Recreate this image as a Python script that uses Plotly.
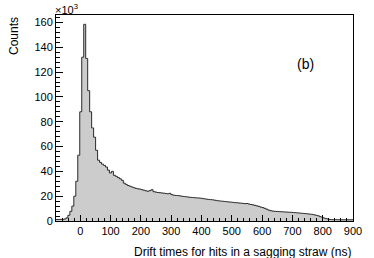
import numpy as np
import plotly.graph_objects as go

# Histogram definition
x_low = -80.0
x_high = 900.0
n_bins = 150

# Bin contents (thousands of counts)
counts_k = [
    1.2, 1.2, 1.3, 1.3, 1.6, 2.5, 4.6, 7.8, 12.0, 20.0,
    32.0, 53.0, 88.0, 132.0, 158.5, 131.0, 105.0, 88.0, 75.0, 67.5,
    57.0, 49.0, 47.2, 45.8, 44.8, 43.5, 41.0, 38.7, 40.0, 36.8,
    36.0, 35.0, 34.0, 32.8, 30.5, 29.5, 28.6, 28.0, 27.4, 26.8,
    26.3, 25.9, 25.7, 25.2, 24.8, 24.3, 24.0, 24.5, 25.2, 23.6,
    23.3, 23.0, 22.8, 22.6, 22.4, 22.2, 21.9, 22.3, 21.3, 20.8,
    20.6, 20.5, 20.3, 20.0, 19.8, 19.6, 19.4, 19.1, 19.0, 18.9,
    18.7, 18.6, 18.5, 18.3, 18.0, 17.8, 17.5, 17.3, 17.2, 17.0,
    16.7, 16.4, 16.2, 16.0, 15.9, 15.7, 15.5, 15.3, 15.2, 15.0,
    14.8, 14.7, 14.5, 14.4, 14.2, 14.0, 14.1, 13.7, 13.3, 13.0,
    12.6, 12.2, 11.8, 11.2, 10.8, 10.2, 9.5, 8.8, 8.3, 8.0,
    7.8, 7.7, 7.6, 7.5, 7.4, 7.3, 7.2, 7.1, 7.0, 6.9,
    6.8, 6.6, 6.5, 6.3, 6.2, 6.0, 5.9, 5.7, 5.5, 5.3,
    5.0, 4.6, 4.2, 3.5, 3.0, 2.4, 1.9, 1.5, 1.2, 1.1,
    1.1, 1.1, 1.0, 1.0, 1.0, 1.0, 1.0, 1.0, 1.0, 1.0,
]

x_tick_vals = [0, 100, 200, 300, 400, 500, 600, 700, 800, 900]
y_tick_vals = [0, 20, 40, 60, 80, 100, 120, 140, 160]

x_title = "Drift times for hits in a sagging straw (ns)"
y_title = "Counts"
panel_label = "(b)"
exp_label = "×10<sup>3</sup>"

edges = np.linspace(x_low, x_high, n_bins + 1)
y_step = list(counts_k) + [counts_k[-1]]

font_family = "Liberation Sans, Arial, Helvetica, sans-serif"

fig = go.Figure()
fig.add_trace(go.Scatter(
    x=edges, y=y_step,
    mode="lines",
    line=dict(shape="hv", color="#2a2a2a", width=1),
    fill="tozeroy",
    fillcolor="#cccccc",
    hoverinfo="skip",
    showlegend=False,
))

fig.update_layout(
    width=374, height=258,
    margin=dict(l=56, r=19, t=15, b=37),
    paper_bgcolor="white",
    plot_bgcolor="white",
    font=dict(family=font_family, size=11, color="black"),
    showlegend=False,
)

fig.update_xaxes(
    range=[x_low, x_high],
    tickvals=x_tick_vals,
    ticks="inside", ticklen=6, tickwidth=1, tickcolor="black",
    minor=dict(dtick=20, tick0=0, ticks="inside", ticklen=3, tickcolor="black", tickwidth=1),
    showline=True, linecolor="black", linewidth=1, mirror=True,
    showgrid=False, zeroline=False,
    tickfont=dict(size=11),
)
fig.update_yaxes(
    range=[0, 166],
    tickvals=y_tick_vals,
    ticks="inside", ticklen=7, tickwidth=1, tickcolor="black",
    minor=dict(dtick=4, tick0=0, ticks="inside", ticklen=3.5, tickcolor="black", tickwidth=1),
    showline=True, linecolor="black", linewidth=1, mirror=True,
    showgrid=False, zeroline=False,
    tickfont=dict(size=11),
)

# Axis titles (ROOT style: right / top aligned)
fig.add_annotation(
    text=x_title, xref="paper", yref="paper", x=1.0, y=0.0,
    xanchor="right", yanchor="top", yshift=-22, showarrow=False,
    font=dict(size=12),
)
fig.add_annotation(
    text=y_title, xref="paper", yref="paper", x=0.0, y=1.0,
    xanchor="right", yanchor="top", xshift=-33, textangle=-90, showarrow=False,
    font=dict(size=12),
)
fig.add_annotation(
    text=exp_label, xref="paper", yref="paper", x=0.0, y=1.0,
    xanchor="left", yanchor="bottom", xshift=-3, yshift=-3, showarrow=False,
    font=dict(size=11),
)
fig.add_annotation(
    text=panel_label, xref="paper", yref="paper", x=0.84, y=0.76,
    xanchor="center", yanchor="middle", showarrow=False,
    font=dict(size=14),
)

# remove the page's default body margin so the figure sits at the window origin
fig.write_html(
    "out.html",
    config={"displayModeBar": False, "staticPlot": True},
    post_script="document.body.style.margin='0';",
)
